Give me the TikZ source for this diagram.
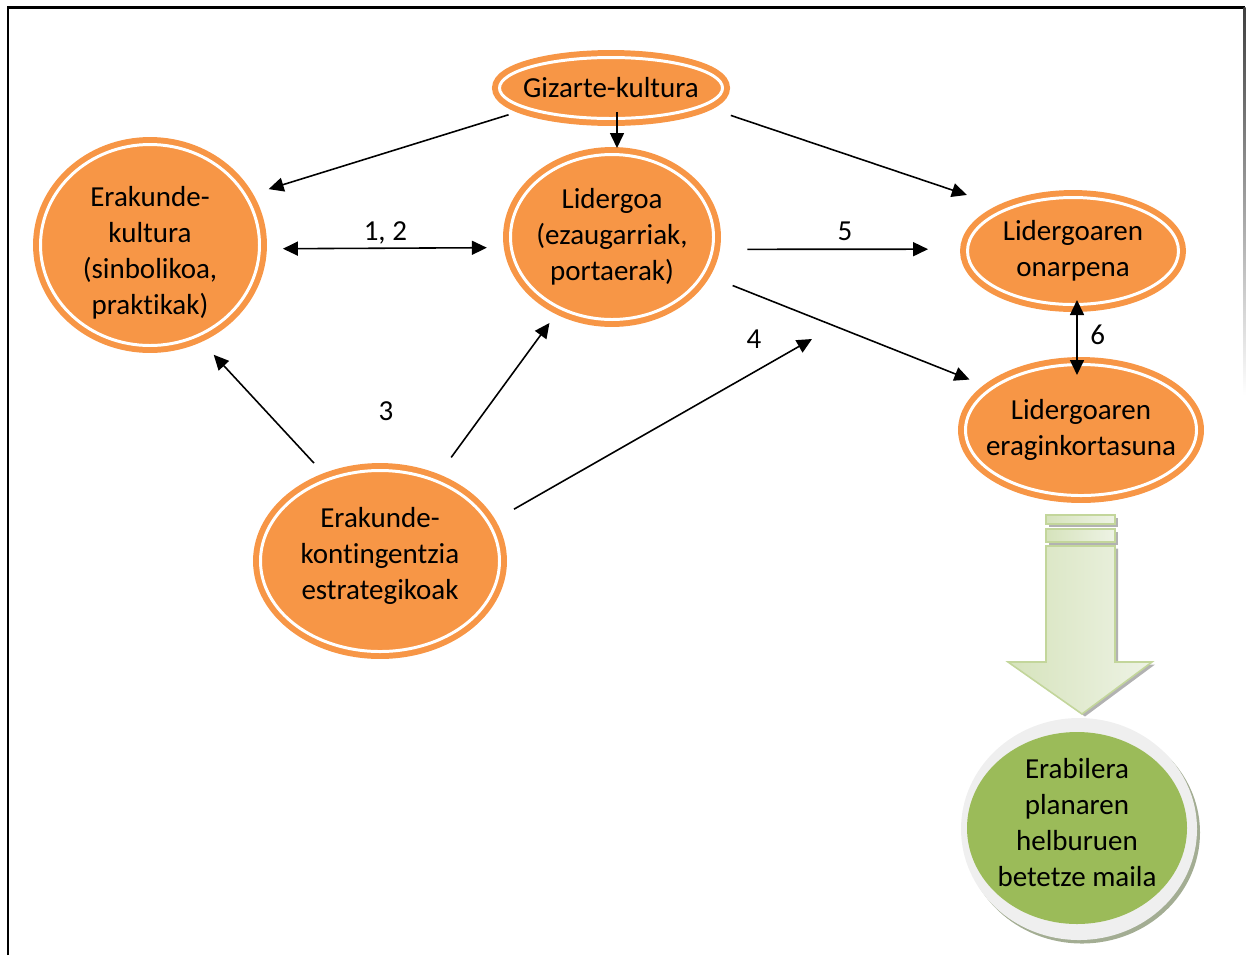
\documentclass[tikz,border=0pt]{standalone}
\usepackage{fontspec}
\setmainfont{Carlito}[Ligatures=NoCommon]
\usetikzlibrary{arrows.meta,positioning,calc,shapes.geometric}

\definecolor{ovalorange}{HTML}{F79646}
\definecolor{leafgreen}{HTML}{9BBB59}
\definecolor{ringgray}{HTML}{EFEFEF}
\definecolor{ringshadow}{HTML}{A3AD93}
\definecolor{arrowedge}{HTML}{C3D69B}
\definecolor{arrowdark}{HTML}{D6E3BC}
\definecolor{arrowlight}{HTML}{EEF3E5}

\tikzset{
  oval/.style={ellipse,fill=ovalorange,draw=ovalorange,line width=3.4pt,double=white,double distance=1.7pt,
    inner sep=-0.6cm,outer sep=0pt,align=center},
  leaf/.style={ellipse,fill=leafgreen,inner sep=-0.6cm,outer sep=0pt,align=center,minimum width=4.40cm,minimum height=3.84cm},
  tag/.style={inner sep=0.15cm}
}

\begin{document}
\begin{tikzpicture}[>={Triangle[length=0.30cm,width=0.28cm]},every path/.style={line width=0.9pt},
    font=\fontsize{16.5}{20.5}\selectfont]
    \useasboundingbox (0,0) rectangle (24.92,-19.10);
    % frame
    \draw[line width=1.2pt] (0.16,-19.10) -- (0.16,-0.15) -- (24.90,-0.15);
    \shade[top color=black!75,bottom color=white] (24.87,-0.15) rectangle (24.91,-7.90);

    % ovals
    \node[oval,minimum width=4.46cm,minimum height=1.22cm] (gk) at (12.22,-1.76) {Gizarte-kultura};
    \node[oval,minimum width=4.38cm,minimum height=4.02cm] (ek) at (3.00,-4.90)
      {\rule{0pt}{0.70cm}Erakunde-\\kultura\\(sinbolikoa,\\praktikak)};
    \node[oval,minimum width=4.06cm,minimum height=3.30cm] (lg) at (12.24,-4.74) {Lidergoa\\(ezaugarriak,\\portaerak)};
    \node[oval,minimum width=4.22cm,minimum height=2.14cm] (on) at (21.46,-5.02) {Lidergoaren\\onarpena};
    \node[oval,minimum width=4.62cm,minimum height=2.62cm] (ef) at (21.62,-8.60) {Lidergoaren\\eraginkortasuna};
    \node[oval,minimum width=4.78cm,minimum height=3.62cm] (kt) at (7.60,-11.22)
      {Erakunde-\\kontingentzia\\estrategikoak\rule[-0.32cm]{0pt}{0pt}};

    % big arrow down
    \begin{scope}[shift={(0.06,-0.05)}]
      \fill[gray!60] (20.92,-10.30) rectangle (22.30,-10.48);
      \fill[gray!60] (20.92,-10.58) rectangle (22.30,-10.84);
      \fill[gray!60] (20.92,-10.92) -- (22.30,-10.92) -- (22.30,-13.24) -- (23.04,-13.24) -- (21.64,-14.28)
        -- (20.16,-13.24) -- (20.92,-13.24) -- cycle;
    \end{scope}
    \shade[left color=arrowdark,right color=arrowlight,draw=arrowedge] (20.92,-10.30) rectangle (22.30,-10.48);
    \shade[left color=arrowdark,right color=arrowlight,draw=arrowedge] (20.92,-10.58) rectangle (22.30,-10.84);
    \shade[left color=arrowdark,right color=arrowlight,draw=arrowedge] (20.92,-10.92) -- (22.30,-10.92) -- (22.30,-13.24)
      -- (23.04,-13.24) -- (21.64,-14.28) -- (20.16,-13.24) -- (20.92,-13.24) -- cycle;

    % goal
    \fill[ringshadow] (21.64,-16.65) ellipse [x radius=2.36cm,y radius=2.22cm];
    \fill[ringgray] (21.58,-16.58) ellipse [x radius=2.36cm,y radius=2.22cm];
    \node[leaf] (gr) at (21.54,-16.56) {Erabilera\\planaren\\helburuen\\betetze maila\rule[-0.24cm]{0pt}{0pt}};

    % links
    \draw[->,shorten <=0.42cm,shorten >=0.48cm] (gk.194) -- (ek.27);
    \draw[->,shorten <=-0.13cm,shorten >=0.13cm] ([xshift=0.12cm]gk.south) -- ([xshift=0.10cm]lg.north);
    \draw[->,shorten <=0.61cm,shorten >=0.87cm] (gk.349) -- (on.147);
    \draw[<->,shorten <=0.47cm,shorten >=0.49cm] (ek.358) -- node[tag,above,yshift=-0.09cm] {1, 2} (lg.186);
    \draw[->,shorten <=0.70cm,shorten >=0.79cm] (lg.353) -- node[tag,above,xshift=0.1cm] {5} (on.179);
    \draw[->,shorten <=0.64cm,shorten >=0.48cm] (lg.338) -- (ef.155);
    \draw[<->,shorten <=-0.09cm,shorten >=-0.21cm] ([xshift=0.08cm]on.south) -- node[tag,right,xshift=0.1cm] {6} ([xshift=-0.08cm]ef.north);
    \draw[->,shorten <=0.44cm,shorten >=0.51cm] (kt.122) -- (ek.297);
    \draw[->,shorten <=0.57cm,shorten >=0.37cm] (kt.56) -- (lg.234);
    \coordinate (mod) at (16.24,-6.78);
    \draw[->,shorten <=0.58cm] (kt.19) -- (mod);
    \node (n3) at (7.72,-8.22) {3};
    \node (n4) at (15.08,-6.78) {4};
  \end{tikzpicture}
\end{document}
